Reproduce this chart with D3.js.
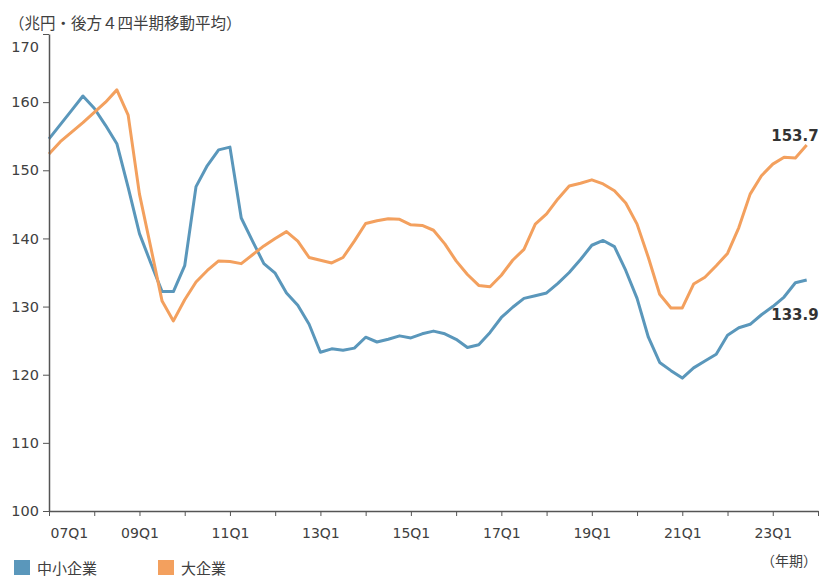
<!DOCTYPE html>
<html>
<head>
<meta charset="utf-8">
<script src="https://cdn.jsdelivr.net/npm/d3@7"></script>
<style>
  body { margin: 0; background: #fff; }
  svg { display: block; }
</style>
</head>
<body>
<div id="wrapper"></div>
<script>
// 四半期（07Q1〜23Q4）
const quarters = [
  "07Q1","07Q2","07Q3","07Q4", "08Q1","08Q2","08Q3","08Q4",
  "09Q1","09Q2","09Q3","09Q4", "10Q1","10Q2","10Q3","10Q4",
  "11Q1","11Q2","11Q3","11Q4", "12Q1","12Q2","12Q3","12Q4",
  "13Q1","13Q2","13Q3","13Q4", "14Q1","14Q2","14Q3","14Q4",
  "15Q1","15Q2","15Q3","15Q4", "16Q1","16Q2","16Q3","16Q4",
  "17Q1","17Q2","17Q3","17Q4", "18Q1","18Q2","18Q3","18Q4",
  "19Q1","19Q2","19Q3","19Q4", "20Q1","20Q2","20Q3","20Q4",
  "21Q1","21Q2","21Q3","21Q4", "22Q1","22Q2","22Q3","22Q4",
  "23Q1","23Q2","23Q3","23Q4"
];

// 中小企業
const smeValues = [
  154.6, 156.7, 158.8, 160.9, 159.1, 156.6, 153.9, 147.5,
  140.7, 136.4, 132.2, 132.2, 136.0, 147.6, 150.7, 153.0,
  153.4, 143.0, 139.6, 136.3, 134.9, 132.0, 130.2, 127.4,
  123.3, 123.8, 123.6, 123.9, 125.5, 124.8, 125.2, 125.7,
  125.4, 126.0, 126.4, 126.0, 125.2, 124.0, 124.4, 126.2,
  128.4, 129.9, 131.2, 131.6, 132.0, 133.4, 135.0, 136.9,
  139.0, 139.7, 138.8, 135.3, 131.2, 125.5, 121.8, 120.6,
  119.5, 121.0, 122.0, 123.0, 125.8, 126.9, 127.4, 128.8,
  130.0, 131.4, 133.5, 133.9
];

// 大企業
const largeValues = [
  152.4, 154.2, 155.6, 157.0, 158.5, 160.0, 161.8, 158.1,
  146.5, 138.7, 130.8, 127.9, 131.0, 133.6, 135.3, 136.7,
  136.6, 136.3, 137.6, 138.9, 140.0, 141.0, 139.6, 137.2,
  136.8, 136.4, 137.2, 139.6, 142.2, 142.6, 142.9, 142.8,
  142.0, 141.9, 141.2, 139.2, 136.7, 134.7, 133.1, 132.9,
  134.6, 136.8, 138.4, 142.1, 143.6, 145.8, 147.7, 148.1,
  148.6, 148.0, 147.0, 145.2, 142.1, 137.2, 131.8, 129.8,
  129.8, 133.3, 134.3, 136.0, 137.8, 141.6, 146.5, 149.2,
  150.9, 151.9, 151.8, 153.7
];

const xTickLabels = ["07Q1","09Q1","11Q1","13Q1","15Q1","17Q1","19Q1","21Q1","23Q1"];
const yTicks = [100, 110, 120, 130, 140, 150, 160, 170];

const seriesNames = ["中小企業", "大企業"];
const colors = ["#5a97bb", "#f3a05e"];

function drawLineChart() {
  let dimensions = {
    width: 821,
    height: 576,
    margin: { top: 34, right: 3, bottom: 65, left: 49 },
  };
  dimensions.boundsWidth = dimensions.width - dimensions.margin.left - dimensions.margin.right;
  dimensions.boundsHeight = dimensions.height - dimensions.margin.top - dimensions.margin.bottom;

  const svg = d3.select("#wrapper").append("svg")
    .attr("width", dimensions.width)
    .attr("height", dimensions.height);

  const bounds = svg.append("g")
    .attr("transform", `translate(${dimensions.margin.left},${dimensions.margin.top})`);

  const numFont = "'DejaVu Sans', Verdana, sans-serif";
  const jpFont = "'Noto Sans CJK JP', sans-serif";

  // scales
  const xScale = d3.scaleLinear()
    .domain([0, quarters.length])
    .range([0, dimensions.boundsWidth]);

  const yScale = d3.scaleLinear()
    .domain([100, 170])
    .range([dimensions.boundsHeight, 0]);

  // lines
  const lineGenerator = d3.line()
    .x((d, i) => xScale(i))
    .y(d => yScale(d));

  [smeValues, largeValues].forEach((vals, k) => {
    bounds.append("path")
      .attr("d", lineGenerator(vals))
      .attr("fill", "none")
      .attr("stroke", colors[k])
      .attr("stroke-width", 3)
      .attr("stroke-linejoin", "round");
  });

  // y axis
  const yAxis = bounds.append("g")
    .call(d3.axisLeft(yScale).tickValues(yTicks).tickSize(6).tickSizeOuter(0).tickPadding(4));
  yAxis.select(".domain").attr("stroke", "#555").attr("stroke-width", 1.5);
  yAxis.selectAll(".tick line").attr("stroke", "#555");
  yAxis.selectAll(".tick text")
    .attr("font-family", numFont).attr("font-size", 14.5).attr("fill", "#404040");
  // 上端のラベルは少し下へ
  yAxis.selectAll(".tick").filter(d => d === 170).select("text").attr("dy", "1.2em");

  // x axis
  const xTickIndex = d3.range(0, quarters.length + 1, 4);
  const xAxis = bounds.append("g")
    .attr("transform", `translate(0,${dimensions.boundsHeight})`)
    .call(d3.axisBottom(xScale)
      .tickValues(xTickIndex)
      .tickSize(5).tickSizeOuter(0).tickPadding(12)
      .tickFormat(i => xTickLabels.includes(quarters[i]) ? quarters[i] : ""));
  xAxis.select(".domain").attr("stroke", "#555").attr("stroke-width", 1.5);
  xAxis.selectAll(".tick line").attr("stroke", "#555");
  xAxis.selectAll(".tick text")
    .attr("font-family", numFont).attr("font-size", 14).attr("fill", "#404040");
  xAxis.selectAll(".tick").filter(d => d === 0).select("text")
    .attr("text-anchor", "start").attr("x", 1);

  // end value labels
  const last = quarters.length - 1;
  bounds.append("text")
    .attr("x", xScale(last) + 12)
    .attr("y", yScale(largeValues[last]) - 4)
    .attr("text-anchor", "end")
    .attr("font-family", numFont).attr("font-size", 15).attr("font-weight", "bold")
    .attr("fill", "#333")
    .text(largeValues[last].toFixed(1));
  bounds.append("text")
    .attr("x", xScale(last) + 12)
    .attr("y", yScale(smeValues[last]) + 40)
    .attr("text-anchor", "end")
    .attr("font-family", numFont).attr("font-size", 15).attr("font-weight", "bold")
    .attr("fill", "#333")
    .text(smeValues[last].toFixed(1));

  // unit titles
  svg.append("text")
    .attr("x", 9).attr("y", 29)
    .attr("font-family", jpFont).attr("font-size", 15.5).attr("fill", "#404040")
    .text("（兆円・後方４四半期移動平均）");
  svg.append("text")
    .attr("x", 817).attr("y", 566)
    .attr("text-anchor", "end")
    .attr("font-family", jpFont).attr("font-size", 14).attr("fill", "#404040")
    .text("（年期）");

  // legend
  const legendX = [14, 158];
  seriesNames.forEach((name, k) => {
    const g = svg.append("g").attr("transform", `translate(${legendX[k]},560)`);
    g.append("rect").attr("width", 16).attr("height", 15).attr("fill", colors[k]);
    g.append("text")
      .attr("x", 23).attr("y", 13.5)
      .attr("font-family", jpFont).attr("font-size", 15).attr("fill", "#404040")
      .text(name);
  });
}

drawLineChart();
</script>
</body>
</html>
